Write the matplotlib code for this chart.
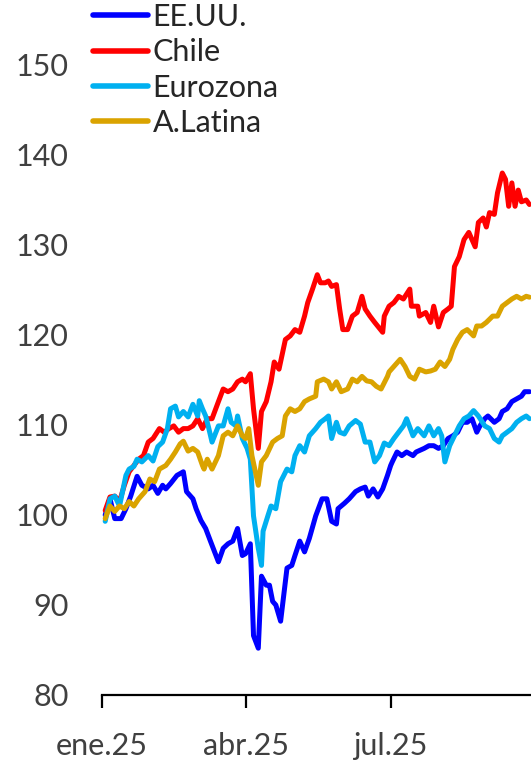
import pandas as pd
import matplotlib.pyplot as plt

plt.rcParams['font.family'] = ['Lato', 'DejaVu Sans']

# indices base 100 (days counted from 1 Jan 2025)
usa_days = [2, 5, 8, 12, 15, 18, 22, 25, 29, 32, 35, 38, 40, 43, 47, 51, 53, 57, 59, 62,
            65, 68, 73, 76, 79, 82, 85, 88, 90, 93, 95, 98, 100, 103, 105, 107, 109, 112,
            116, 119, 121, 124, 127, 130, 134, 138, 141, 144, 147, 148, 152, 155, 159, 162,
            165, 167, 170, 173, 176, 179, 181, 182, 185, 188, 191, 195, 197, 202, 205, 208,
            211, 214, 217, 220, 223, 226, 229, 232, 235, 237, 240, 242, 246, 249, 251, 254,
            257, 260, 263, 265, 268]
usa = [100.0, 101.8, 99.6, 99.6, 100.7, 102.1, 104.3, 103.3, 102.9, 103.3, 102.4, 103.3,
       102.9, 103.5, 104.4, 104.8, 102.6, 101.8, 100.7, 99.4, 98.5, 97.1, 94.8, 96.3, 96.8,
       97.1, 98.5, 95.5, 95.7, 96.8, 86.6, 85.2, 93.2, 92.2, 92.2, 90.4, 90.0, 88.2, 94.1,
       94.4, 95.5, 97.1, 95.9, 97.4, 99.9, 101.8, 101.8, 99.3, 99.0, 100.7, 101.3, 101.8,
       102.6, 102.9, 103.1, 102.1, 102.9, 102.0, 102.9, 104.4, 105.5, 105.9, 107.0, 106.6,
       107.0, 106.6, 107.0, 107.4, 107.7, 107.7, 107.4, 107.7, 108.5, 108.8, 109.2, 110.3,
       110.3, 110.7, 109.2, 109.9, 110.7, 111.0, 110.3, 110.7, 111.5, 111.8, 112.6, 112.9,
       113.2, 113.7, 113.7]

chile_days = [2, 5, 8, 11, 14, 17, 20, 23, 26, 29, 32, 36, 39, 42, 45, 48, 51, 54, 57, 60,
              63, 66, 69, 73, 76, 79, 82, 85, 88, 90, 93, 95, 98, 100, 103, 106, 108, 111,
              115, 118, 121, 124, 127, 129, 132, 135, 137, 140, 142, 144, 147, 149, 151,
              154, 157, 160, 163, 165, 168, 171, 176, 177, 180, 183, 186, 189, 193, 194,
              198, 199, 203, 206, 208, 211, 214, 217, 219, 221, 224, 227, 230, 234, 236,
              239, 241, 243, 246, 248, 251, 253, 255, 257, 259, 261, 263, 266, 268]
chile = [100.5, 102.0, 102.1, 101.5, 103.3, 104.8, 105.5, 106.2, 106.6, 108.1, 108.5,
         109.6, 109.2, 109.6, 109.9, 109.2, 109.6, 109.6, 109.9, 110.7, 109.6, 110.7, 110.7,
         112.6, 114.0, 113.7, 114.0, 114.8, 115.1, 114.8, 115.7, 111.8, 107.4, 111.5, 112.6,
         114.8, 117.0, 116.2, 119.5, 119.9, 120.6, 120.3, 122.1, 123.6, 125.1, 126.7, 125.8,
         125.8, 126.0, 125.4, 125.6, 122.9, 120.6, 120.6, 122.1, 122.5, 124.3, 122.9, 122.1,
         121.4, 120.3, 122.1, 123.2, 123.6, 124.3, 124.0, 125.1, 123.2, 123.2, 122.1, 122.5,
         121.4, 123.2, 120.9, 122.5, 122.9, 123.2, 127.6, 128.7, 130.6, 131.4, 129.8, 132.5,
         133.0, 132.0, 133.6, 133.4, 135.8, 138.0, 137.3, 134.3, 136.9, 134.3, 136.1, 134.8,
         135.0, 134.5]

euro_days = [2, 5, 8, 11, 15, 17, 20, 22, 25, 29, 32, 35, 38, 41, 43, 46, 48, 51, 54, 57,
             60, 61, 63, 65, 67, 69, 73, 76, 79, 81, 84, 85, 88, 91, 93, 95, 98, 100, 101,
             104, 106, 109, 112, 116, 119, 121, 124, 127, 130, 134, 137, 140, 142, 144, 147,
             149, 152, 155, 159, 162, 165, 168, 171, 174, 177, 180, 183, 186, 189, 191, 195,
             198, 202, 205, 208, 211, 213, 215, 218, 221, 224, 227, 230, 233, 236, 240, 243,
             246, 249, 251, 254, 257, 260, 263, 266, 268]
euro = [99.3, 101.8, 102.1, 101.0, 104.4, 105.1, 105.4, 106.2, 105.9, 106.6, 106.0, 107.6,
        108.1, 109.6, 111.8, 112.1, 110.9, 111.5, 110.9, 112.3, 111.0, 112.7, 111.8, 111.0,
        109.6, 108.1, 109.9, 109.9, 111.8, 110.3, 109.9, 111.0, 108.5, 107.4, 106.2, 99.9,
        96.3, 94.4, 98.2, 99.9, 101.0, 100.7, 103.7, 105.1, 104.8, 106.6, 107.7, 107.0,
        108.8, 109.6, 110.3, 110.7, 111.0, 108.5, 110.3, 109.2, 109.0, 109.9, 110.5, 110.1,
        108.1, 108.1, 105.9, 106.6, 108.0, 107.7, 108.5, 109.2, 109.9, 110.7, 108.8, 109.6,
        108.8, 109.9, 108.8, 109.6, 108.8, 105.9, 107.7, 108.8, 109.9, 110.7, 111.0, 111.6,
        111.0, 109.9, 109.6, 108.5, 108.1, 108.8, 109.2, 109.6, 110.3, 110.7, 111.0, 110.7]

latam_days = [2, 5, 8, 11, 14, 17, 20, 23, 27, 30, 33, 36, 40, 43, 46, 49, 51, 54, 57, 60,
              63, 64, 66, 69, 73, 76, 79, 82, 85, 88, 90, 92, 94, 98, 100, 103, 107, 110,
              113, 115, 118, 121, 124, 127, 130, 134, 135, 139, 142, 144, 147, 150, 154,
              157, 160, 163, 166, 169, 172, 175, 179, 180, 183, 187, 190, 193, 196, 199,
              203, 206, 209, 212, 215, 218, 220, 223, 226, 229, 233, 235, 238, 241, 245,
              248, 251, 254, 257, 260, 263, 266, 268]
latam = [99.6, 101.0, 100.4, 101.0, 100.7, 101.5, 101.0, 101.8, 102.6, 104.0, 103.7, 105.1,
         105.5, 106.2, 107.0, 107.9, 108.2, 107.1, 107.4, 107.0, 105.5, 105.1, 106.2, 105.1,
         106.6, 108.8, 109.2, 108.8, 109.9, 108.8, 108.5, 109.6, 106.6, 103.3, 105.9, 106.6,
         108.1, 108.5, 108.8, 111.0, 111.8, 111.5, 111.8, 112.6, 112.9, 113.2, 114.8, 115.1,
         114.8, 114.0, 114.8, 113.7, 114.0, 115.1, 114.8, 115.4, 114.9, 114.8, 114.3, 114.0,
         115.4, 115.9, 116.5, 117.3, 116.5, 115.4, 115.1, 116.2, 115.9, 116.0, 116.2, 117.0,
         116.5, 117.3, 118.4, 119.5, 120.3, 120.6, 119.9, 121.0, 121.0, 121.4, 122.1, 122.1,
         123.2, 123.6, 124.0, 124.3, 124.0, 124.3, 124.2]

names = ['EE.UU.', 'Chile', 'Eurozona', 'A.Latina']
colors = ['#0000FF', '#FF0000', '#00B0F0', '#DAA300']
tick_dates = ['2025-01-01', '2025-04-01', '2025-07-01']
tick_labels = ['ene.25', 'abr.25', 'jul.25']

start = pd.Timestamp('2025-01-01')


def to_dates(days):
    return start + pd.to_timedelta(days, unit='D')


fig = plt.figure(figsize=(5.31, 7.61), dpi=100)
ax = fig.add_axes([102 / 531, 66 / 761, 429 / 531, 675 / 761])

series = [(usa_days, usa), (chile_days, chile), (euro_days, euro), (latam_days, latam)]
for (days, vals), name, col in zip(series, names, colors):
    ax.plot(to_dates(days), vals, color=col, lw=3.6, label=name,
            solid_joinstyle='round', solid_capstyle='round')

ax.set_ylim(80, 155)
ax.set_yticks(range(80, 151, 10))
ax.set_xlim(start, start + pd.Timedelta(days=269))
ax.set_xticks(pd.to_datetime(tick_dates))
ax.set_xticklabels(tick_labels)

for s in ['top', 'right', 'left']:
    ax.spines[s].set_visible(False)
ax.spines['bottom'].set_linewidth(1.6)
ax.tick_params(axis='y', length=0, pad=24, labelsize=22, labelcolor='#404040')
ax.tick_params(axis='x', direction='out', length=9.5, width=1.6, pad=17,
               labelsize=22, labelcolor='#404040')

leg = fig.legend(loc='upper left', bbox_to_anchor=(93 / 531, 1.0 - 3 / 761),
                 frameon=False, fontsize=22, handlelength=1.8, handletextpad=0.15,
                 labelspacing=0.24, borderpad=0, borderaxespad=0)
for line in leg.get_lines():
    line.set_linewidth(4)
for t in leg.get_texts():
    t.set_color('#262626')

fig.savefig('out.png', dpi=100)
